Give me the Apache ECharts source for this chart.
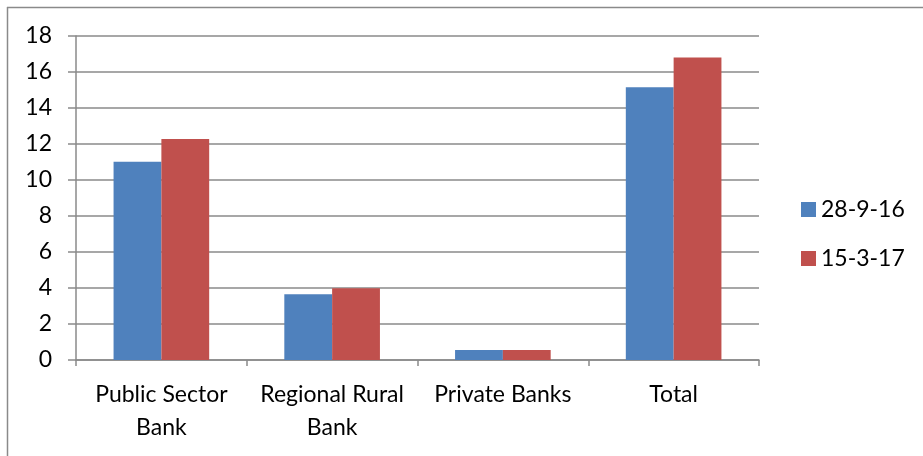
<!DOCTYPE html>
<html>
<head>
<meta charset="utf-8">
<script src="https://cdn.jsdelivr.net/npm/echarts@6/dist/echarts.min.js"></script>
<style>
html,body{margin:0;padding:0;background:#fff;}
#chart{width:923px;height:456px;}
</style>
</head>
<body>
<div id="chart"></div>
<script>
// Bank categories and the two reporting dates
var categories = ['Public Sector\nBank', 'Regional Rural\nBank', 'Private Banks', 'Total'];
var seriesNames = ['28-9-16', '15-3-17'];
var valuesSep16 = [11.02, 3.65, 0.55, 15.15];
var valuesMar17 = [12.28, 3.98, 0.56, 16.8];
var yTicks = { min: 0, max: 18, interval: 2 };

var FONT = 'Lato, "Open Sans", sans-serif';
var FS = 23;
var chart = echarts.init(document.getElementById('chart'));
chart.setOption({
  animation: false,
  backgroundColor: '#fff',
  textStyle: { fontFamily: FONT },
  graphic: [
    { type: 'line', shape: { x1: 7.5, y1: 7, x2: 7.5, y2: 456 }, style: { stroke: '#8a8a8a', lineWidth: 1.5 } },
    { type: 'line', shape: { x1: 7, y1: 7.5, x2: 923, y2: 7.5 }, style: { stroke: '#8a8a8a', lineWidth: 1.5 } }
  ],
  legend: {
    orient: 'vertical',
    left: 801,
    top: 198,
    padding: 0,
    itemWidth: 15,
    itemHeight: 15,
    itemGap: 26,
    icon: 'rect',
    textStyle: { fontFamily: FONT, fontSize: FS, color: '#000' },
    data: seriesNames
  },
  grid: { left: 76, right: 164, top: 36, bottom: 96, containLabel: false },
  xAxis: {
    type: 'category',
    data: categories,
    axisLine: { lineStyle: { color: '#8a8a8a', width: 1.5 } },
    axisTick: { show: true, length: 6, alignWithLabel: false, lineStyle: { color: '#8a8a8a', width: 1.5 } },
    axisLabel: { color: '#000', fontSize: FS, fontFamily: FONT, margin: 18, lineHeight: 33, interval: 0 }
  },
  yAxis: {
    type: 'value',
    min: yTicks.min,
    max: yTicks.max,
    interval: yTicks.interval,
    axisLine: { show: true, lineStyle: { color: '#8a8a8a', width: 1.5 } },
    axisTick: { show: true, length: 8, lineStyle: { color: '#8a8a8a', width: 1.5 } },
    axisLabel: { color: '#000', fontSize: FS, fontFamily: FONT, margin: 24 },
    splitLine: { show: true, lineStyle: { color: '#8a8a8a', width: 1.5 } }
  },
  series: [
    { name: seriesNames[0], type: 'bar', data: valuesSep16, barGap: '0%', barCategoryGap: '44%',
      itemStyle: { color: '#4f81bd' } },
    { name: seriesNames[1], type: 'bar', data: valuesMar17, barGap: '0%', barCategoryGap: '44%',
      itemStyle: { color: '#c0504d' } }
  ]
});
</script>
</body>
</html>
